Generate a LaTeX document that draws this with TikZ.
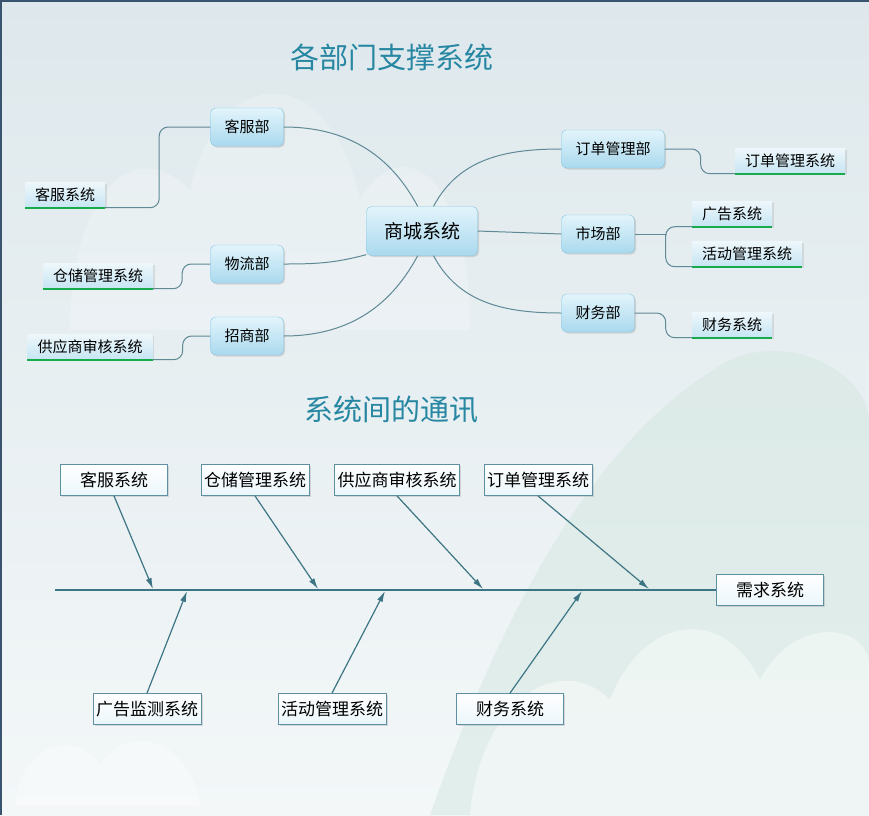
\documentclass[tikz,border=0pt]{standalone}
\usepackage{fontspec}
\setmainfont{Noto Sans CJK SC}
\usepackage{tikz}
\usetikzlibrary{shadows}
\usetikzlibrary{arrows.meta}
\definecolor{linec}{HTML}{5E8995}
\definecolor{boxline}{HTML}{86C6E3}
\definecolor{boxtop}{HTML}{E2F4FB}
\definecolor{boxbot}{HTML}{AAD9EE}
\definecolor{leaftop}{HTML}{EDF7FB}
\definecolor{leafbot}{HTML}{C6E5F3}
\definecolor{leafgreen}{HTML}{17AB4C}
\definecolor{fishline}{HTML}{3D7585}
\definecolor{fishbox}{HTML}{5F8FA3}
\definecolor{titlec}{HTML}{2787A2}
\definecolor{bgtop}{HTML}{DEE8EC}
\definecolor{bgbot}{HTML}{F3F7F8}
\definecolor{hillc}{HTML}{D3E7E0}
\definecolor{framec}{HTML}{3A5470}
\tikzset{
  dept/.style={rectangle,rounded corners=5pt,draw=boxline,top color=boxtop,bottom color=boxbot,
    inner xsep=14pt,minimum height=38pt,font=\fontsize{15pt}{17pt}\selectfont,
    drop shadow={opacity=0.25,shadow xshift=1.5pt,shadow yshift=-1.5pt}},
  hub/.style={dept,inner xsep=17.5pt,minimum height=49pt,font=\fontsize{19pt}{21pt}\selectfont},
  leaf/.style={rectangle,top color=leaftop,bottom color=leafbot,inner xsep=10pt,minimum height=25pt,
    font=\fontsize{15pt}{17pt}\selectfont,
    drop shadow={opacity=0.2,shadow xshift=1.5pt,shadow yshift=-1pt}},
  fishnode/.style={rectangle,draw=fishbox,line width=0.8pt,top color=white,bottom color=leaftop!80!boxtop,
    inner xsep=3pt,minimum width=107pt,minimum height=31pt,font=\fontsize{17pt}{19pt}\selectfont,
    drop shadow={opacity=0.25,shadow xshift=1.5pt,shadow yshift=-1.5pt}},
  headline/.style={text=titlec,font=\fontsize{29pt}{31pt}\selectfont},
  link/.style={draw=linec,line width=1pt},
  under/.style={draw=leafgreen,line width=2.2pt},
  bone/.style={draw=fishline,line width=1.2pt,-{Latex[length=11pt,width=6pt]}}
}
\begin{document}
\begin{tikzpicture}[x=1pt,y=-1pt]
\useasboundingbox (0,0) rectangle (869,815);
% background
\fill[top color=bgtop,bottom color=bgbot] (0,0) rectangle (869,815);
\fill[white,opacity=0.22] (70,330) .. controls (70,200) and (130,130) .. (190,190)
  .. controls (220,60) and (330,60) .. (360,200) .. controls (400,130) and (470,170) .. (470,330) -- cycle;
\fill[hillc,opacity=0.5] (430,815) .. controls (520,560) and (620,420) .. (730,360)
  .. controls (800,330) and (869,380) .. (869,420) -- (869,815) -- cycle;
\fill[white,opacity=0.45] (470,815) .. controls (480,700) and (560,650) .. (610,700)
  .. controls (640,620) and (720,600) .. (760,680) .. controls (790,620) and (860,620) .. (869,660) -- (869,815) -- cycle;
\fill[white,opacity=0.35] (15,805) .. controls (20,740) and (80,730) .. (100,765)
  .. controls (130,720) and (190,740) .. (200,805) -- cycle;
\draw[framec,line width=3pt] (0,815) -- (0,0) -- (869,0);
% titles
\path (392,57) node(h1)[headline]{各部门支撑系统}
(391,410) node(h2)[headline]{系统间的通讯};
% mind map
\path (422,231) node(c)[hub]{商城系统}
(247,127) node(a1)[dept]{客服部}
(247,264) node(a2)[dept]{物流部}
(247,336) node(a3)[dept]{招商部}
(613,149) node(b1)[dept]{订单管理部}
(598,234) node(b2)[dept]{市场部}
(598,313) node(b3)[dept]{财务部}
(65,195) node(l1)[leaf]{客服系统}
(98,276) node(l2)[leaf]{仓储管理系统}
(90,347) node(l3)[leaf]{供应商审核系统}
(790,161) node(r1)[leaf]{订单管理系统}
(732,214) node(r2)[leaf]{广告系统}
(747,254) node(r3)[leaf]{活动管理系统}
(732,325) node(r4)[leaf]{财务系统};
\foreach \n in {l1,l2,l3,r1,r2,r3,r4}
  \draw[under](\n.south west)--(\n.south east);
\draw[link](a1.east) to[out=0,in=118] (c.100);
\draw[link](a2.east) to[out=0,in=195] (c.203);
\draw[link](a3.east) to[out=0,in=242] (c.260);
\draw[link](c.65) to[out=62,in=180] (b1.west);
\draw[link](c.east)--(b2.west);
\draw[link](c.295) to[out=-62,in=180] (b3.west);
\draw[link,rounded corners=9pt](l1.south east)--++(54,0)|-(a1.west);
\draw[link,rounded corners=9pt](l2.south east)--++(29,0)|-(a2.west);
\draw[link,rounded corners=9pt](l3.south east)--++(30,0)|-(a3.west);
\draw[link,rounded corners=9pt](b1.east)--++(36,0)|-(r1.south west);
\draw[link](b2.east)--++(31,0) coordinate(j);
\draw[link,rounded corners=9pt](j)|-(r2.south west);
\draw[link,rounded corners=9pt](j)|-(r3.south west);
\draw[link,rounded corners=9pt](b3.east)--++(31,0)|-(r4.south west);
% fishbone
\path (114,480) node(t1)[fishnode]{客服系统}
(255,480) node(t2)[fishnode]{仓储管理系统}
(397,480) node(t3)[fishnode]{供应商审核系统}
(538,480) node(t4)[fishnode]{订单管理系统}
(147,709) node(u1)[fishnode]{广告监测系统}
(332,709) node(u2)[fishnode]{活动管理系统}
(510,709) node(u3)[fishnode]{财务系统}
(770,590) node(z)[fishnode]{需求系统};
\coordinate (s0) at (55,590);
\coordinate (p1) at (153,589);
\coordinate (p2) at (318,589);
\coordinate (p3) at (483,589);
\coordinate (p4) at (649,589);
\coordinate (q1) at (187,591);
\coordinate (q2) at (385,591);
\coordinate (q3) at (582,591);
\draw[draw=fishline,line width=1.2pt](s0)--(z.west);
\draw[bone](t1.south)--(p1);
\draw[bone](t2.south)--(p2);
\draw[bone](t3.south)--(p3);
\draw[bone](t4.south)--(p4);
\draw[bone](u1.north)--(q1);
\draw[bone](u2.north)--(q2);
\draw[bone](u3.north)--(q3);
\end{tikzpicture}
\end{document}
